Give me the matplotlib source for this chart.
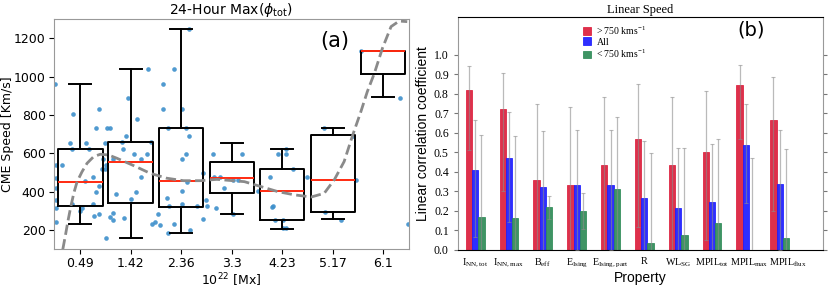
import matplotlib
matplotlib.use("Agg")
import matplotlib.pyplot as plt
import matplotlib.transforms as mtransforms
import numpy as np

# ---------------- Panel (a) data ----------------
bin_centers = [0.49, 1.42, 2.36, 3.3, 4.23, 5.17, 6.1]
bin_labels = ["0.49", "1.42", "2.36", "3.3", "4.23", "5.17", "6.1"]
box_whislo = [233, 160, 184, 283, 207, 256, 894]
box_q1 = [323, 343, 318, 391, 254, 296, 1012]
box_med = [449, 557, 454, 470, 402, 463, 1134]
box_q3 = [623, 657, 734, 555, 518, 694, 1134]
box_whishi = [960, 1042, 1249, 656, 624, 732, 1134]

pts_x = [0.01, 0.355, 0.83, 0.78, 0.98, 1.03, 0.305, 0.595, 0.94, 0.336, 0.644, 0.152, 0.046,
         0.91, 0.965, 0.89, 0.94, 0.046, 0.58, 0.72, 0.84, 0.77, 0.046, 0.046, 0.046, 0.046,
         0.336, 0.72, 0.52, 0.48, 0.75, 0.83,
         1.37, 1.74, 1.54, 1.33, 1.26, 1.28, 1.09, 1.49, 1.61, 1.72, 1.80, 1.61, 1.15, 1.525,
         1.43, 1.03, 1.10, 1.30, 1.09, 0.97,
         2.02, 2.23, 2.03, 2.37, 2.12, 2.45, 2.51, 2.37, 2.44, 2.50, 1.82, 1.88, 1.97, 1.93,
         2.10, 2.14, 2.38, 2.23, 2.12, 2.53, 2.38, 2.46, 2.66, 2.77, 2.81, 2.83, 2.77,
         2.94, 3.08, 2.97, 3.15, 3.00, 3.31, 3.49, 3.32, 3.41, 3.79,
         4.01, 4.04, 4.06, 4.16, 4.30, 4.30, 4.43, 4.25, 4.10, 4.30, 4.25, 4.69,
         5.01, 5.03, 5.32, 5.54, 5.60,
         5.69, 6.42, 6.57]
pts_y = [960, 805, 831, 734, 734, 734, 656, 656, 656, 623, 623, 541, 541,
         569, 541, 518, 518, 470, 456, 478, 430, 400, 417, 357, 313, 243,
         336, 336, 313, 299, 273, 282,
         890, 1040, 779, 692, 657, 623, 569, 595, 569, 595, 657, 478, 388, 397,
         362, 266, 254, 264, 289, 160,
         960, 1040, 831, 831, 734, 734, 692, 569, 595, 1249, 231, 243, 226, 282,
         365, 327, 336, 231, 184, 200, 404, 452, 327, 497, 357, 327, 257,
         595, 478, 478, 417, 313, 282, 595, 463, 463, 404,
         478, 322, 325, 595, 595, 624, 518, 254, 254, 209, 209, 478,
         734, 296, 254, 692, 463,
         1134, 890, 231]

fit_x = [0.163, 0.213, 0.256, 0.305, 0.366, 0.428, 0.52, 0.613, 0.736, 0.86, 1.013, 1.167,
         1.475, 1.78, 2.09, 2.40, 2.71, 3.02, 3.53, 3.84, 4.15, 4.46, 4.77, 5.01, 5.20,
         5.38, 5.54, 5.69, 5.81, 5.94, 6.09, 6.25, 6.40, 6.55]
fit_y = [99, 174, 243, 313, 391, 452, 504, 548, 583, 595, 591, 574,
         536, 496, 470, 457, 457, 464, 452, 426, 400, 383, 372, 391, 463,
         557, 696, 817, 922, 1017, 1148, 1261, 1290, 1287]

# ---------------- Panel (b) data ----------------
prop_labels = [r"$\mathregular{I_{NN,tot}}$", r"$\mathregular{I_{NN,max}}$", r"$\mathregular{B_{eff}}$",
               r"$\mathregular{E_{Ising}}$", r"$\mathregular{E_{Ising,part}}$", "R",
               r"$\mathregular{WL_{SG}}$", r"$\mathregular{MPIL_{tot}}$",
               r"$\mathregular{MPIL_{max}}$", r"$\mathregular{MPIL_{flux}}$"]
fast = [0.82, 0.72, 0.36, 0.335, 0.435, 0.57, 0.435, 0.50, 0.845, 0.665]
fast_hi = [0.94, 0.905, 0.75, 0.735, 0.785, 0.85, 0.785, 0.815, 0.95, 0.885]
fast_lo = [0.51, 0.30, -0.15, -0.17, -0.05, 0.12, -0.05, 0.05, 0.57, 0.20]
allc = [0.41, 0.47, 0.325, 0.335, 0.335, 0.265, 0.215, 0.245, 0.54, 0.34]
all_hi = [0.665, 0.705, 0.61, 0.615, 0.615, 0.56, 0.525, 0.545, 0.75, 0.615]
all_lo = [0.065, 0.145, -0.02, 0.0, 0.0, -0.06, -0.12, -0.10, 0.24, 0.0]
slow = [0.17, 0.165, 0.22, 0.20, 0.31, 0.035, 0.075, 0.14, 0.0, 0.06]
slow_hi = [0.59, 0.585, 0.275, 0.29, 0.68, 0.495, 0.525, 0.57, 0.47, 0.515]
slow_lo = [-0.3, -0.3, 0.16, 0.11, -0.1, -0.45, -0.4, -0.3, -0.47, -0.4]

fig = plt.figure(figsize=(8.31, 2.90), dpi=100)

# ---------------- Panel (a) ----------------
ax = fig.add_axes([0.065, 0.141, 0.427, 0.793])
ax.scatter(pts_x, pts_y, s=11, color="#3d8fcb", alpha=0.9, linewidths=0, zorder=1)
stats = []
for i in range(len(bin_centers)):
    stats.append(dict(med=box_med[i], q1=box_q1[i], q3=box_q3[i],
                      whislo=box_whislo[i], whishi=box_whishi[i], fliers=[]))
ax.bxp(stats, positions=bin_centers, widths=0.82, showfliers=False, manage_ticks=False,
       boxprops=dict(color="black", linewidth=1.4),
       whiskerprops=dict(color="black", linewidth=1.4),
       capprops=dict(color="black", linewidth=1.4),
       medianprops=dict(color="#ff2a10", linewidth=1.4))
ax.plot(fit_x, fit_y, linestyle="--", color="#8a8a8a", linewidth=2.0, zorder=3)
ax.set_xlim(0.0, 6.58)
ax.set_ylim(100, 1300)
ax.set_xticks(bin_centers)
ax.set_xticklabels(bin_labels)
ax.set_yticks([200, 400, 600, 800, 1000, 1200])
ax.tick_params(labelsize=9, pad=2.5)
ax.set_xlabel(r"$10^{22}$ [Mx]", fontsize=9, labelpad=1)
ax.set_ylabel("CME Speed [Km/s]", fontsize=9, labelpad=0)
ax.set_title(r"24-Hour Max($\phi_{\rm tot}$)", fontsize=10, pad=3)
ax.text(0.79, 0.905, "(a)", transform=ax.transAxes, fontsize=15, ha="center", va="center")
for s in ax.spines.values():
    s.set_color("#999999")

# ---------------- Panel (b) ----------------
serif = "Liberation Serif"
bx = fig.add_axes([0.551, 0.138, 0.439, 0.803])
xpos = np.arange(len(prop_labels))
w = 0.185
cols = ["#dc1e3c", "#1c1cff", "#2e8b57"]
series = [(fast, fast_lo, fast_hi, -w, r"> 750 kms$\mathregular{^{-1}}$"),
          (allc, all_lo, all_hi, 0.0, "All"),
          (slow, slow_lo, slow_hi, w, r"< 750 kms$\mathregular{^{-1}}$")]
for (vals, lo, hi, off, lab), c in zip(series, cols):
    vals = np.array(vals)
    yerr = np.vstack([vals - np.array(lo), np.array(hi) - vals])
    bx.bar(xpos + off, vals, width=w, color=c, alpha=0.92, edgecolor=c, linewidth=0.6,
           label=lab, zorder=2)
    bx.errorbar(xpos + off, vals, yerr=yerr, fmt="none", ecolor="#8c8c8c", alpha=0.6,
                elinewidth=0.9, capsize=1.2, capthick=0.8, zorder=3)
bx.set_xlim(-0.51, 10.27)
bx.set_ylim(0.0, 1.193)
bx.set_yticks(np.round(np.arange(0, 1.01, 0.1), 1))
bx.set_yticklabels([f"{v:.1f}" for v in np.arange(0, 1.01, 0.1)], fontfamily=serif, fontsize=8.5)
bx.set_xticks(xpos)
bx.set_xticklabels(prop_labels, fontfamily=serif, fontsize=7.3)
bx.tick_params(axis="y", right=True, direction="out", length=3, color="#777777")
bx.tick_params(axis="x", length=0, pad=5)
# nudge the last two crowded labels to the right, as in the reference
shifts = {8: 3.5, 9: 8.5}
for i, lbl in enumerate(bx.get_xticklabels()):
    if i in shifts:
        lbl.set_transform(lbl.get_transform() +
                          mtransforms.ScaledTranslation(shifts[i] / 100.0, 0, fig.dpi_scale_trans))
bx.set_xlabel("Property", fontsize=10, fontfamily="Liberation Sans", labelpad=1)
bx.set_ylabel("Linear correlation coefficient", fontsize=10, fontfamily="Liberation Sans",
              labelpad=3)
bx.set_title("Linear Speed", fontsize=9, fontfamily=serif, pad=3)
bx.text(0.805, 0.944, "(b)", transform=bx.transAxes, fontsize=14, ha="center", va="center")
bx.spines["left"].set_color("#999999")
bx.spines["right"].set_color("#999999")
leg = bx.legend(loc="upper center", bbox_to_anchor=(0.43, 0.995), frameon=False,
                prop={"family": serif, "size": 7}, handlelength=0.8, handleheight=0.8,
                labelspacing=0.1, handletextpad=0.6, borderaxespad=0.2)

fig.savefig("out.png", dpi=100)
